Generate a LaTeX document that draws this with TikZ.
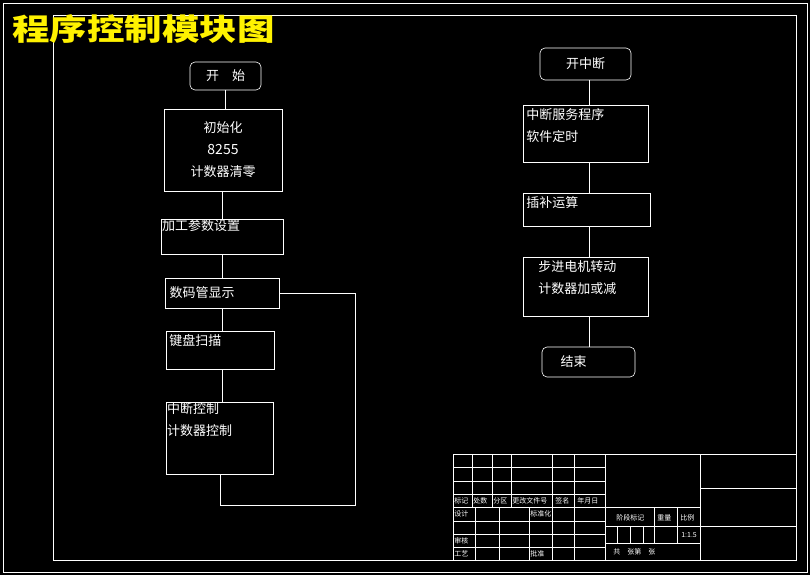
\documentclass[tikz,border=0pt]{standalone}
\usepackage{fontspec}
\setmainfont{Noto Sans CJK SC}
\usetikzlibrary{positioning}
\begin{document}
\begin{tikzpicture}[x=1pt,y=-1pt,white,line width=0.6pt,
    box/.style={draw,rectangle,font=\fontsize{13}{16}\selectfont,inner sep=0pt},
    term/.style={draw,rectangle,rounded corners=5pt,font=\fontsize{13}{16}\selectfont},
    cell/.style={font=\fontsize{7}{8}\selectfont,anchor=west,inner sep=1pt}]
  \fill[black] (0,0) rectangle (810,575);
  \useasboundingbox (0,0) rectangle (810,575);
  \draw (3,3) rectangle (807,572);
  \draw (53,15) rectangle (796,560);
  \node[yellow,font=\fontsize{30}{34}\selectfont\bfseries,anchor=west,xscale=1.25,inner sep=0pt] (title) at (12,29) {程序控制模块图};
  % left column
  \node[term,minimum width=71pt,minimum height=28pt] (start) at (225.5,76) {开\quad 始};
  \node[box,minimum width=118pt,minimum height=82pt,align=center] (init) at (223,150)
    {初始化\\[6pt]{\itshape\fontsize{14}{16}\selectfont 8255}\\[6pt]计数器清零};
  \node[box,minimum width=122pt,minimum height=35pt] (param) at (222,236.5) {};
  \node[font=\fontsize{13}{16}\selectfont,anchor=north west,inner sep=1pt] at (param.north west) {加工参数设置};
  \node[box,minimum width=114pt,minimum height=30pt] (disp) at (222,293) {\hspace*{-40pt}数码管显示};
  \node[box,minimum width=108pt,minimum height=38pt] (key) at (220,350) {};
  \node[font=\fontsize{13}{16}\selectfont,anchor=north west] at (key.north west) {键盘扫描};
  \node[box,minimum width=107pt,minimum height=72pt] (intr) at (219.5,438) {};
  \node[font=\fontsize{13}{16}\selectfont,anchor=north west,align=left,inner sep=1pt] at (intr.north west) {中断控制\\[6pt]计数器控制};
  \draw (start.south -| 225,0) -- (init.north -| 225,0);
  \draw (init.south -| 222,0) -- (param.north -| 222,0);
  \draw (param.south -| 222,0) -- (disp.north -| 222,0);
  \draw (disp.south -| 222,0) -- (key.north -| 222,0);
  \draw (key.south -| 222,0) -- (intr.north -| 222,0);
  \coordinate (c1) at (220,505);
  \coordinate (c2) at (355,505);
  \coordinate (c3) at (355,293);
  \draw (intr.south -| c1) -- (c1) -- (c2) -- (c3) -- (disp.east);
  % right column
  \node[term,minimum width=91pt,minimum height=32pt] (ion) at (585.5,64) {开中断};
  \node[box,minimum width=125pt,minimum height=57pt] (isr) at (585.5,133.5) {};
  \node[font=\fontsize{13}{16}\selectfont,anchor=north west,align=left] at (isr.north west) {中断服务程序\\[6pt]软件定时};
  \node[box,minimum width=127pt,minimum height=33pt] (interp) at (586.5,209.5) {};
  \node[font=\fontsize{13}{16}\selectfont,anchor=north west] at (interp.north west) {插补运算};
  \node[box,minimum width=125pt,minimum height=59pt] (motor) at (585.5,286.5) {};
  \node[font=\fontsize{13}{16}\selectfont,anchor=north west,align=left,xshift=12pt] at (motor.north west) {步进电机转动\\[6pt]计数器加或减};
  \node[term,minimum width=93pt,minimum height=30pt] (stop) at (588.5,362) {\hspace*{-30pt}结束};
  \draw (ion.south -| 589,0) -- (isr.north -| 589,0);
  \draw (isr.south -| 589,0) -- (interp.north -| 589,0);
  \draw (interp.south -| 589,0) -- (motor.north -| 589,0);
  \draw (motor.south -| 589,0) -- (stop.north -| 589,0);
  % title block
  \draw (453,454) rectangle (796,560);
  \foreach \y in {467,481,494,507} \draw (453,\y) -- (605,\y);
  \foreach \x in {472,492,511,552,574} \draw (\x,454) -- (\x,507);
  \foreach \y in {521,534,547} \draw (453,\y) -- (605,\y);
  \foreach \x in {475,499,529,552,574} \draw (\x,507) -- (\x,560);
  \draw (605,454) -- (605,560);
  \draw (700,454) -- (700,560);
  \draw (605,507) -- (700,507);
  \draw (605,526) -- (796,526);
  \draw (605,543) -- (700,543);
  \draw (700,488) -- (796,488);
  \foreach \x in {617,630,643} \draw (\x,526) -- (\x,543);
  \draw (654,507) -- (654,543);
  \draw (677,507) -- (677,543);
  \node[cell] (t1) at (453,500.5) {标记};
  \node[cell] (t2) at (472,500.5) {处数};
  \node[cell] (t3) at (492,500.5) {分区};
  \node[cell] (t4) at (511,500.5) {更改文件号};
  \node[cell] (t5) at (554,500.5) {签名};
  \node[cell] (t6) at (576,500.5) {年月日};
  \node[cell] (t7) at (453,514) {设计};
  \node[cell] (t8) at (529,514) {标准化};
  \node[cell] (t9) at (453,540.5) {审核};
  \node[cell] (t10) at (453,553.5) {工艺};
  \node[cell] (t11) at (529,553.5) {批准};
  \node[cell] (t12) at (615,518) {阶段标记};
  \node[cell] (t13) at (656,518) {重量};
  \node[cell] (t14) at (679,518) {比例};
  \node[cell,font=\fontsize{7}{8}\selectfont\itshape] (t15) at (680,535) {1:1.5};
  \node[cell] (t16) at (612,551.5) {共\quad 张第\quad 张};
\end{tikzpicture}
\end{document}
